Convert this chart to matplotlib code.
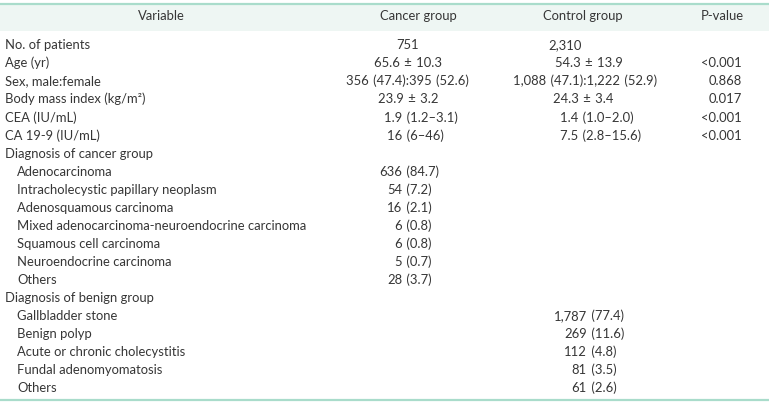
import matplotlib
matplotlib.use("Agg")
import matplotlib.pyplot as plt

plt.rcParams['font.family'] = ['Lato', 'DejaVu Sans']

# ---- data ----
headers = ["Variable", "Cancer group", "Control group", "P-value"]

summary_labels = ["No. of patients", "Age (yr)", "Sex, male:female",
                  "Body mass index (kg/m\u00b2)", "CEA (IU/mL)", "CA 19-9 (IU/mL)"]
summary_cancer = ["751", "65.6 \u00b1 10.3", "356 (47.4):395 (52.6)", "23.9 \u00b1 3.2",
                  "1.9 (1.2\u20133.1)", "16 (6\u201346)"]
summary_control = ["2,310", "54.3 \u00b1 13.9", "1,088 (47.1):1,222 (52.9)", "24.3 \u00b1 3.4",
                   "1.4 (1.0\u20132.0)", "7.5 (2.8\u201315.6)"]
summary_p = ["", "<0.001", "0.868", "0.017", "<0.001", "<0.001"]

cancer_title = "Diagnosis of cancer group"
cancer_dx = ["Adenocarcinoma", "Intracholecystic papillary neoplasm", "Adenosquamous carcinoma",
             "Mixed adenocarcinoma-neuroendocrine carcinoma", "Squamous cell carcinoma",
             "Neuroendocrine carcinoma", "Others"]
cancer_dx_n = ["636", "54", "16", "6", "6", "5", "28"]
cancer_dx_pct = ["84.7", "7.2", "2.1", "0.8", "0.8", "0.7", "3.7"]

benign_title = "Diagnosis of benign group"
benign_dx = ["Gallbladder stone", "Benign polyp", "Acute or chronic cholecystitis",
             "Fundal adenomyomatosis", "Others"]
benign_dx_n = ["1,787", "269", "112", "81", "61"]
benign_dx_pct = ["77.4", "11.6", "4.8", "3.5", "2.6"]

# ---- layout ----
W, H = 771, 403
fig = plt.figure(figsize=(W / 100, H / 100), dpi=100)
ax = fig.add_axes([0, 0, 1, 1])
ax.set_xlim(0, W)
ax.set_ylim(H, 0)
ax.axis('off')

txt = '#363636'
fs = 9.4
line_col = '#a9dccb'
band_col = '#eef6f3'


def wide(s):
    # numeric cells in the source are typeset with slightly wider word spaces
    return s.replace(" ", "\u2004")


# header band and rules
ax.add_patch(plt.Rectangle((0, 4.5), W - 2, 26.5, facecolor=band_col, edgecolor='none'))
ax.plot([0, W - 2], [3.7, 3.7], color=line_col, lw=1.6, solid_capstyle='butt')
ax.plot([0, W - 2], [399.5, 399.5], color=line_col, lw=1.6, solid_capstyle='butt')

hdr_x = [161.5, 418, 583, 722]
for h, x in zip(headers, hdr_x):
    ax.text(x, 20.5, h, ha='center', va='baseline', fontsize=fs, color=txt)

base0 = 49.3
step = 18.05


def yb(i):
    return base0 + step * i


x_left = 5
x_indent = 17
cancer_centers = [407.5, 408.5, 407.5, 408, 421, 415]
control_centers = [565, 589, 585, 583, 597, 601]
p_right = 742

row = 0
for i, lab in enumerate(summary_labels):
    y = yb(row)
    ax.text(x_left, y, lab, ha='left', va='baseline', fontsize=fs, color=txt)
    ax.text(cancer_centers[i], y, wide(summary_cancer[i]), ha='center', va='baseline',
            fontsize=fs, color=txt)
    ax.text(control_centers[i], y, wide(summary_control[i]), ha='center', va='baseline',
            fontsize=fs, color=txt)
    if summary_p[i]:
        ax.text(p_right, y, summary_p[i], ha='right', va='baseline', fontsize=fs, color=txt)
    row += 1

ax.text(x_left, yb(row), cancer_title, ha='left', va='baseline', fontsize=fs, color=txt)
row += 1
cancer_split = 402
for lab, n, p in zip(cancer_dx, cancer_dx_n, cancer_dx_pct):
    y = yb(row)
    ax.text(x_indent, y, lab, ha='left', va='baseline', fontsize=fs, color=txt)
    ax.text(cancer_split, y, n, ha='right', va='baseline', fontsize=fs, color=txt)
    ax.text(cancer_split, y, wide(f" ({p})"), ha='left', va='baseline', fontsize=fs, color=txt)
    row += 1

ax.text(x_left, yb(row), benign_title, ha='left', va='baseline', fontsize=fs, color=txt)
row += 1
benign_split = 587
for lab, n, p in zip(benign_dx, benign_dx_n, benign_dx_pct):
    y = yb(row)
    ax.text(x_indent, y, lab, ha='left', va='baseline', fontsize=fs, color=txt)
    ax.text(benign_split, y, n, ha='right', va='baseline', fontsize=fs, color=txt)
    ax.text(benign_split, y, wide(f" ({p})"), ha='left', va='baseline', fontsize=fs, color=txt)
    row += 1

fig.savefig("out.png", dpi=100)
